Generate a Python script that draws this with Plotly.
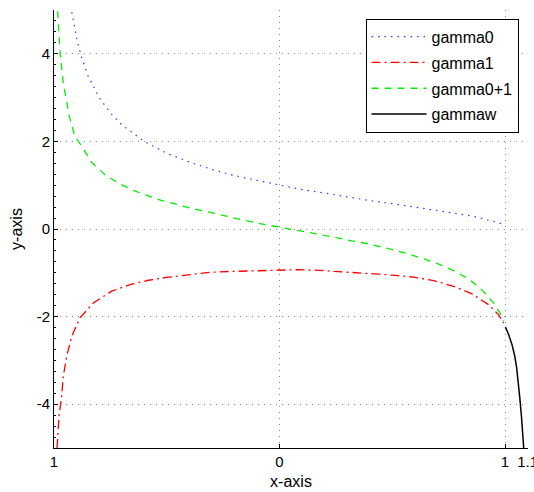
import plotly.graph_objects as go

# ---- data ----
x_g0 = [-0.921, -0.90, -0.88, -0.85, -0.80, -0.75, -0.70, -0.60, -0.50, -0.40, -0.30,
        -0.20, -0.10, 0.0, 0.10, 0.20, 0.30, 0.40, 0.50, 0.60, 0.70, 0.80, 0.86, 0.90,
        0.95, 0.985]
y_g0 = [4.95, 4.36, 3.96, 3.51, 3.00, 2.65, 2.38, 2.00, 1.73, 1.53, 1.36,
        1.22, 1.11, 1.00, 0.90, 0.82, 0.73, 0.65, 0.58, 0.50, 0.42, 0.34, 0.29, 0.24,
        0.17, 0.12]

x_g1 = [-0.987, -0.985, -0.978, -0.966, -0.959, -0.944, -0.921, -0.885, -0.826, -0.744,
        -0.663, -0.581, -0.493, -0.404, -0.308, -0.226, -0.130, -0.034, 0.077, 0.158,
        0.255, 0.351, 0.44, 0.514, 0.595, 0.684, 0.772, 0.854, 0.928, 0.972, 0.994]
y_g1 = [-5.0, -4.89, -4.28, -3.82, -3.37, -2.91, -2.45, -2.03, -1.69, -1.42,
        -1.27, -1.17, -1.10, -1.04, -0.99, -0.97, -0.96, -0.94, -0.93, -0.94,
        -0.97, -0.99, -1.03, -1.06, -1.10, -1.18, -1.31, -1.48, -1.73, -1.96, -2.15]

x_g01 = [-0.984, -0.973, -0.959, -0.932, -0.907, -0.877, -0.833, -0.774, -0.715, -0.648,
         -0.589, -0.522, -0.448, -0.382, -0.308, -0.234, -0.167, -0.063, 0.025, 0.099,
         0.173, 0.247, 0.321, 0.395, 0.484, 0.565, 0.639, 0.706, 0.772, 0.839, 0.898,
         0.950, 0.987, 0.994]
y_g01 = [4.97, 4.02, 3.33, 2.57, 2.11, 1.89, 1.52, 1.24, 1.05, 0.88,
         0.77, 0.65, 0.55, 0.46, 0.38, 0.29, 0.21, 0.10, 0.02, -0.04,
         -0.11, -0.19, -0.27, -0.34, -0.45, -0.56, -0.68, -0.80, -0.95, -1.14, -1.39,
         -1.69, -2.00, -2.11]

x_gw = [1.002, 1.016, 1.031, 1.042, 1.051, 1.058, 1.065, 1.073, 1.080, 1.083]
y_gw = [-2.24, -2.41, -2.64, -2.87, -3.14, -3.44, -3.82, -4.28, -4.73, -5.0]

x_tickvals = [-1, 0, 1, 1.1]
x_ticktext = ["1", "0", "1", "1.1"]
y_tickvals = [-4, -2, 0, 2, 4]
y_ticktext = ["-4", "-2", "0", "2", "4"]

FONT = "Liberation Sans, Arial, Helvetica, sans-serif"

fig = go.Figure()
fig.add_trace(go.Scatter(x=x_g0, y=y_g0, mode="lines", name="gamma0", legendgroup="a",
                         line=dict(color="#3333ff", width=1.2, dash="1.5px,5px")))
fig.add_trace(go.Scatter(x=x_g1, y=y_g1, mode="lines", name="gamma1", legendgroup="b",
                         line=dict(color="#ff0000", width=1.3, dash="9px,4px,2px,4px")))
fig.add_trace(go.Scatter(x=x_g01, y=y_g01, mode="lines", name="gamma0+1", legendgroup="c",
                         line=dict(color="#00ee00", width=1.3, dash="7px,6px")))
fig.add_trace(go.Scatter(x=x_gw, y=y_gw, mode="lines", name="gammaw", legendgroup="d",
                         line=dict(color="black", width=1.5)))

grid = dict(showgrid=True, gridcolor="#888888", gridwidth=1, griddash="1px,5px")

fig.update_layout(
    width=534, height=492,
    margin=dict(l=54, r=6, t=10, b=44, autoexpand=False),
    paper_bgcolor="white", plot_bgcolor="white",
    font=dict(family=FONT, size=15, color="black"),
    showlegend=True,
    legend=dict(x=0.98, y=0.98, xanchor="right", yanchor="top",
                bgcolor="white", bordercolor="black", borderwidth=1,
                font=dict(family=FONT, size=16, color="black"),
                tracegroupgap=2, itemwidth=55),
    xaxis=dict(range=[-1, 1.102], tickmode="array", tickvals=x_tickvals, ticktext=x_ticktext,
               ticks="inside", ticklen=4, tickcolor="black", showline=True,
               linecolor="black", linewidth=1, zeroline=False, automargin=False,
               ticklabeloverflow="allow",
               title=dict(text="x-axis", standoff=6,
                          font=dict(family=FONT, size=16, color="black")), **grid),
    yaxis=dict(range=[-5, 5], tickmode="array", tickvals=y_tickvals, ticktext=y_ticktext,
               ticks="inside", ticklen=4, tickcolor="black", showline=True,
               linecolor="black", linewidth=1, zeroline=False, automargin=False,
               minor=dict(dtick=0.25, tick0=0, ticks="inside", ticklen=2,
                          tickcolor="black", showgrid=False),
               title=dict(text="y-axis", standoff=10,
                          font=dict(family=FONT, size=16, color="black")), **grid),
)

fig.write_html("out.html")
